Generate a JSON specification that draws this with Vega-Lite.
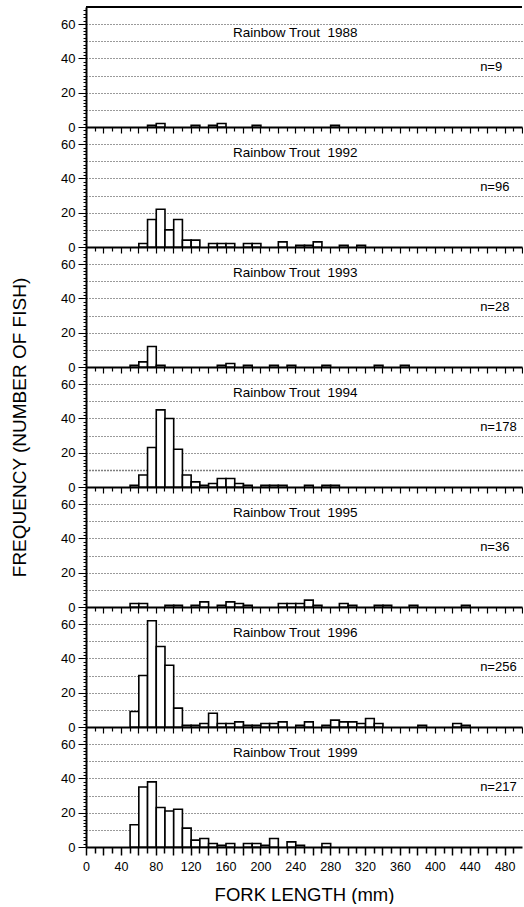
{
  "$schema": "https://vega.github.io/schema/vega-lite/v6.json",
  "padding": {"left": 10, "top": 4, "right": 0, "bottom": 0},
  "bounds": "flush",
  "spacing": 0,
  "config": {
    "font": "Liberation Sans",
    "view": {"stroke": null},
    "axis": {"labelFont": "Liberation Sans", "titleFont": "Liberation Sans", "labelColor": "black", "titleColor": "black", "titleFontWeight": "normal"},
    "text": {"font": "Liberation Sans", "color": "black"}
  },
  "datasets": {
    "panels": [
      {"year": 1988, "title": "Rainbow Trout\u00a0 1988", "n": "n=9"},
      {"year": 1992, "title": "Rainbow Trout\u00a0 1992", "n": "n=96"},
      {"year": 1993, "title": "Rainbow Trout\u00a0 1993", "n": "n=28"},
      {"year": 1994, "title": "Rainbow Trout\u00a0 1994", "n": "n=178"},
      {"year": 1995, "title": "Rainbow Trout\u00a0 1995", "n": "n=36"},
      {"year": 1996, "title": "Rainbow Trout\u00a0 1996", "n": "n=256"},
      {"year": 1999, "title": "Rainbow Trout\u00a0 1999", "n": "n=217"}
    ],
    "fish": [
      {"year": 1988, "lo": 70, "count": 1}, {"year": 1988, "lo": 80, "count": 2}, {"year": 1988, "lo": 120, "count": 1}, {"year": 1988, "lo": 140, "count": 1}, {"year": 1988, "lo": 150, "count": 2}, {"year": 1988, "lo": 190, "count": 1}, {"year": 1988, "lo": 280, "count": 1},
      {"year": 1992, "lo": 60, "count": 2}, {"year": 1992, "lo": 70, "count": 16}, {"year": 1992, "lo": 80, "count": 22}, {"year": 1992, "lo": 90, "count": 10}, {"year": 1992, "lo": 100, "count": 16}, {"year": 1992, "lo": 110, "count": 4}, {"year": 1992, "lo": 120, "count": 4}, {"year": 1992, "lo": 140, "count": 2}, {"year": 1992, "lo": 150, "count": 2}, {"year": 1992, "lo": 160, "count": 2}, {"year": 1992, "lo": 180, "count": 2}, {"year": 1992, "lo": 190, "count": 2}, {"year": 1992, "lo": 220, "count": 3}, {"year": 1992, "lo": 240, "count": 1}, {"year": 1992, "lo": 250, "count": 1}, {"year": 1992, "lo": 260, "count": 3}, {"year": 1992, "lo": 290, "count": 1}, {"year": 1992, "lo": 310, "count": 1},
      {"year": 1993, "lo": 50, "count": 1}, {"year": 1993, "lo": 60, "count": 3}, {"year": 1993, "lo": 70, "count": 12}, {"year": 1993, "lo": 80, "count": 1}, {"year": 1993, "lo": 150, "count": 1}, {"year": 1993, "lo": 160, "count": 2}, {"year": 1993, "lo": 180, "count": 1}, {"year": 1993, "lo": 210, "count": 1}, {"year": 1993, "lo": 230, "count": 1}, {"year": 1993, "lo": 270, "count": 1}, {"year": 1993, "lo": 330, "count": 1}, {"year": 1993, "lo": 360, "count": 1},
      {"year": 1994, "lo": 50, "count": 1}, {"year": 1994, "lo": 60, "count": 7}, {"year": 1994, "lo": 70, "count": 23}, {"year": 1994, "lo": 80, "count": 45}, {"year": 1994, "lo": 90, "count": 40}, {"year": 1994, "lo": 100, "count": 22}, {"year": 1994, "lo": 110, "count": 7}, {"year": 1994, "lo": 120, "count": 3}, {"year": 1994, "lo": 130, "count": 1}, {"year": 1994, "lo": 140, "count": 2}, {"year": 1994, "lo": 150, "count": 5}, {"year": 1994, "lo": 160, "count": 5}, {"year": 1994, "lo": 170, "count": 2}, {"year": 1994, "lo": 180, "count": 1}, {"year": 1994, "lo": 200, "count": 1}, {"year": 1994, "lo": 210, "count": 1}, {"year": 1994, "lo": 220, "count": 1}, {"year": 1994, "lo": 250, "count": 1}, {"year": 1994, "lo": 270, "count": 1}, {"year": 1994, "lo": 280, "count": 1},
      {"year": 1995, "lo": 50, "count": 2}, {"year": 1995, "lo": 60, "count": 2}, {"year": 1995, "lo": 90, "count": 1}, {"year": 1995, "lo": 100, "count": 1}, {"year": 1995, "lo": 120, "count": 1}, {"year": 1995, "lo": 130, "count": 3}, {"year": 1995, "lo": 150, "count": 1}, {"year": 1995, "lo": 160, "count": 3}, {"year": 1995, "lo": 170, "count": 2}, {"year": 1995, "lo": 180, "count": 1}, {"year": 1995, "lo": 220, "count": 2}, {"year": 1995, "lo": 230, "count": 2}, {"year": 1995, "lo": 240, "count": 2}, {"year": 1995, "lo": 250, "count": 4}, {"year": 1995, "lo": 260, "count": 1}, {"year": 1995, "lo": 290, "count": 2}, {"year": 1995, "lo": 300, "count": 1}, {"year": 1995, "lo": 330, "count": 1}, {"year": 1995, "lo": 340, "count": 1}, {"year": 1995, "lo": 370, "count": 1}, {"year": 1995, "lo": 430, "count": 1},
      {"year": 1996, "lo": 50, "count": 9}, {"year": 1996, "lo": 60, "count": 30}, {"year": 1996, "lo": 70, "count": 62}, {"year": 1996, "lo": 80, "count": 47}, {"year": 1996, "lo": 90, "count": 36}, {"year": 1996, "lo": 100, "count": 11}, {"year": 1996, "lo": 110, "count": 1}, {"year": 1996, "lo": 120, "count": 1}, {"year": 1996, "lo": 130, "count": 2}, {"year": 1996, "lo": 140, "count": 8}, {"year": 1996, "lo": 150, "count": 2}, {"year": 1996, "lo": 160, "count": 2}, {"year": 1996, "lo": 170, "count": 3}, {"year": 1996, "lo": 180, "count": 1}, {"year": 1996, "lo": 190, "count": 1}, {"year": 1996, "lo": 200, "count": 2}, {"year": 1996, "lo": 210, "count": 2}, {"year": 1996, "lo": 220, "count": 3}, {"year": 1996, "lo": 240, "count": 1}, {"year": 1996, "lo": 250, "count": 3}, {"year": 1996, "lo": 270, "count": 1}, {"year": 1996, "lo": 280, "count": 4}, {"year": 1996, "lo": 290, "count": 3}, {"year": 1996, "lo": 300, "count": 3}, {"year": 1996, "lo": 310, "count": 2}, {"year": 1996, "lo": 320, "count": 5}, {"year": 1996, "lo": 330, "count": 2}, {"year": 1996, "lo": 380, "count": 1}, {"year": 1996, "lo": 420, "count": 2}, {"year": 1996, "lo": 430, "count": 1},
      {"year": 1999, "lo": 50, "count": 13}, {"year": 1999, "lo": 60, "count": 35}, {"year": 1999, "lo": 70, "count": 38}, {"year": 1999, "lo": 80, "count": 23}, {"year": 1999, "lo": 90, "count": 21}, {"year": 1999, "lo": 100, "count": 22}, {"year": 1999, "lo": 110, "count": 11}, {"year": 1999, "lo": 120, "count": 4}, {"year": 1999, "lo": 130, "count": 5}, {"year": 1999, "lo": 140, "count": 2}, {"year": 1999, "lo": 150, "count": 1}, {"year": 1999, "lo": 160, "count": 2}, {"year": 1999, "lo": 180, "count": 2}, {"year": 1999, "lo": 190, "count": 2}, {"year": 1999, "lo": 200, "count": 1}, {"year": 1999, "lo": 210, "count": 5}, {"year": 1999, "lo": 230, "count": 3}, {"year": 1999, "lo": 240, "count": 1}, {"year": 1999, "lo": 270, "count": 2}
    ]
  },
  "vconcat": [
    {
      "width": 436, "height": 120,
      "layer": [
        {"data": {"name": "fish"}, "transform": [{"filter": "datum.year == 1988"}],
         "mark": {"type": "bar", "fill": "white", "stroke": "black", "strokeWidth": 1.6, "binSpacing": 0},
         "encoding": {
           "x": {"field": "lo", "type": "quantitative", "bin": {"binned": true, "step": 10}, "scale": {"domain": [0, 500], "nice": false},
                 "axis": {"values": [0,10,20,30,40,50,60,70,80,90,100,110,120,130,140,150,160,170,180,190,200,210,220,230,240,250,260,270,280,290,300,310,320,330,340,350,360,370,380,390,400,410,420,430,440,450,460,470,480,490,500], "tickCount": 200, "labels": false, "title": null, "grid": false, "domainColor": "black", "domainWidth": 2, "tickColor": "black", "tickWidth": 1.2, "tickSize": {"condition": {"test": "datum.value % 20 == 0", "value": 6}, "value": 4}}},
           "y": {"field": "count", "type": "quantitative", "scale": {"domain": [0, 70], "nice": false},
                 "axis": {"values": [0,2,4,6,8,10,12,14,16,18,20,22,24,26,28,30,32,34,36,38,40,42,44,46,48,50,52,54,56,58,60,62,64,66,68], "tickCount": 200, "format": "d", "labelExpr": "datum.value % 20 == 0 ? datum.label : ''", "labelOverlap": false, "labelFontSize": 13, "labelPadding": 3, "tickColor": "black", "tickWidth": 1, "tickSize": {"condition": {"test": "datum.value % 20 == 0", "value": 8}, "value": 3}, "domainColor": "black", "domainWidth": 2, "grid": true, "gridColor": "black", "gridDash": [1, 2], "gridWidth": 0.8, "gridOpacity": {"condition": {"test": "datum.value % 10 == 0 && datum.value > 0", "value": 1}, "value": 0}, "title": null}}
         }},
        {"data": {"name": "panels"}, "transform": [{"filter": "datum.year == 1988"}], "mark": {"type": "text", "fontSize": 13.5, "align": "center", "baseline": "middle"}, "encoding": {"x": {"datum": 240}, "y": {"datum": 55}, "text": {"field": "title"}}},
        {"data": {"name": "panels"}, "transform": [{"filter": "datum.year == 1988"}], "mark": {"type": "text", "fontSize": 13, "align": "left", "baseline": "middle"}, "encoding": {"x": {"datum": 452}, "y": {"datum": 35}, "text": {"field": "n"}}},
        {"data": {"values": [{}]}, "mark": {"type": "rule", "strokeWidth": 2, "color": "black"}, "encoding": {"y": {"datum": 70}}}
      ]
    },
    {
      "width": 436, "height": 120,
      "layer": [
        {"data": {"name": "fish"}, "transform": [{"filter": "datum.year == 1992"}],
         "mark": {"type": "bar", "fill": "white", "stroke": "black", "strokeWidth": 1.6, "binSpacing": 0},
         "encoding": {
           "x": {"field": "lo", "type": "quantitative", "bin": {"binned": true, "step": 10}, "scale": {"domain": [0, 500], "nice": false},
                 "axis": {"values": [0,10,20,30,40,50,60,70,80,90,100,110,120,130,140,150,160,170,180,190,200,210,220,230,240,250,260,270,280,290,300,310,320,330,340,350,360,370,380,390,400,410,420,430,440,450,460,470,480,490,500], "tickCount": 200, "labels": false, "title": null, "grid": false, "domainColor": "black", "domainWidth": 2, "tickColor": "black", "tickWidth": 1.2, "tickSize": {"condition": {"test": "datum.value % 20 == 0", "value": 6}, "value": 4}}},
           "y": {"field": "count", "type": "quantitative", "scale": {"domain": [0, 70], "nice": false},
                 "axis": {"values": [0,2,4,6,8,10,12,14,16,18,20,22,24,26,28,30,32,34,36,38,40,42,44,46,48,50,52,54,56,58,60,62,64,66,68], "tickCount": 200, "format": "d", "labelExpr": "datum.value % 20 == 0 ? datum.label : ''", "labelOverlap": false, "labelFontSize": 13, "labelPadding": 3, "tickColor": "black", "tickWidth": 1, "tickSize": {"condition": {"test": "datum.value % 20 == 0", "value": 8}, "value": 3}, "domainColor": "black", "domainWidth": 2, "grid": true, "gridColor": "black", "gridDash": [1, 2], "gridWidth": 0.8, "gridOpacity": {"condition": {"test": "datum.value % 10 == 0 && datum.value > 0", "value": 1}, "value": 0}, "title": null}}
         }},
        {"data": {"name": "panels"}, "transform": [{"filter": "datum.year == 1992"}], "mark": {"type": "text", "fontSize": 13.5, "align": "center", "baseline": "middle"}, "encoding": {"x": {"datum": 240}, "y": {"datum": 55}, "text": {"field": "title"}}},
        {"data": {"name": "panels"}, "transform": [{"filter": "datum.year == 1992"}], "mark": {"type": "text", "fontSize": 13, "align": "left", "baseline": "middle"}, "encoding": {"x": {"datum": 452}, "y": {"datum": 35}, "text": {"field": "n"}}}
      ]
    },
    {
      "width": 436, "height": 120,
      "layer": [
        {"data": {"name": "fish"}, "transform": [{"filter": "datum.year == 1993"}],
         "mark": {"type": "bar", "fill": "white", "stroke": "black", "strokeWidth": 1.6, "binSpacing": 0},
         "encoding": {
           "x": {"field": "lo", "type": "quantitative", "bin": {"binned": true, "step": 10}, "scale": {"domain": [0, 500], "nice": false},
                 "axis": {"values": [0,10,20,30,40,50,60,70,80,90,100,110,120,130,140,150,160,170,180,190,200,210,220,230,240,250,260,270,280,290,300,310,320,330,340,350,360,370,380,390,400,410,420,430,440,450,460,470,480,490,500], "tickCount": 200, "labels": false, "title": null, "grid": false, "domainColor": "black", "domainWidth": 2, "tickColor": "black", "tickWidth": 1.2, "tickSize": {"condition": {"test": "datum.value % 20 == 0", "value": 6}, "value": 4}}},
           "y": {"field": "count", "type": "quantitative", "scale": {"domain": [0, 70], "nice": false},
                 "axis": {"values": [0,2,4,6,8,10,12,14,16,18,20,22,24,26,28,30,32,34,36,38,40,42,44,46,48,50,52,54,56,58,60,62,64,66,68], "tickCount": 200, "format": "d", "labelExpr": "datum.value % 20 == 0 ? datum.label : ''", "labelOverlap": false, "labelFontSize": 13, "labelPadding": 3, "tickColor": "black", "tickWidth": 1, "tickSize": {"condition": {"test": "datum.value % 20 == 0", "value": 8}, "value": 3}, "domainColor": "black", "domainWidth": 2, "grid": true, "gridColor": "black", "gridDash": [1, 2], "gridWidth": 0.8, "gridOpacity": {"condition": {"test": "datum.value % 10 == 0 && datum.value > 0", "value": 1}, "value": 0}, "title": null}}
         }},
        {"data": {"name": "panels"}, "transform": [{"filter": "datum.year == 1993"}], "mark": {"type": "text", "fontSize": 13.5, "align": "center", "baseline": "middle"}, "encoding": {"x": {"datum": 240}, "y": {"datum": 55}, "text": {"field": "title"}}},
        {"data": {"name": "panels"}, "transform": [{"filter": "datum.year == 1993"}], "mark": {"type": "text", "fontSize": 13, "align": "left", "baseline": "middle"}, "encoding": {"x": {"datum": 452}, "y": {"datum": 35}, "text": {"field": "n"}}}
      ]
    },
    {
      "width": 436, "height": 120,
      "layer": [
        {"data": {"name": "fish"}, "transform": [{"filter": "datum.year == 1994"}],
         "mark": {"type": "bar", "fill": "white", "stroke": "black", "strokeWidth": 1.6, "binSpacing": 0},
         "encoding": {
           "x": {"field": "lo", "type": "quantitative", "bin": {"binned": true, "step": 10}, "scale": {"domain": [0, 500], "nice": false},
                 "axis": {"values": [0,10,20,30,40,50,60,70,80,90,100,110,120,130,140,150,160,170,180,190,200,210,220,230,240,250,260,270,280,290,300,310,320,330,340,350,360,370,380,390,400,410,420,430,440,450,460,470,480,490,500], "tickCount": 200, "labels": false, "title": null, "grid": false, "domainColor": "black", "domainWidth": 2, "tickColor": "black", "tickWidth": 1.2, "tickSize": {"condition": {"test": "datum.value % 20 == 0", "value": 6}, "value": 4}}},
           "y": {"field": "count", "type": "quantitative", "scale": {"domain": [0, 70], "nice": false},
                 "axis": {"values": [0,2,4,6,8,10,12,14,16,18,20,22,24,26,28,30,32,34,36,38,40,42,44,46,48,50,52,54,56,58,60,62,64,66,68], "tickCount": 200, "format": "d", "labelExpr": "datum.value % 20 == 0 ? datum.label : ''", "labelOverlap": false, "labelFontSize": 13, "labelPadding": 3, "tickColor": "black", "tickWidth": 1, "tickSize": {"condition": {"test": "datum.value % 20 == 0", "value": 8}, "value": 3}, "domainColor": "black", "domainWidth": 2, "grid": true, "gridColor": "black", "gridDash": [1, 2], "gridWidth": {"condition": {"test": "datum.value == 10", "value": 1.6}, "value": 0.8}, "gridOpacity": {"condition": {"test": "datum.value % 10 == 0 && datum.value > 0", "value": 1}, "value": 0}, "title": "FREQUENCY (NUMBER OF FISH)", "titleFontSize": 19, "titlePadding": 31}}
         }},
        {"data": {"name": "panels"}, "transform": [{"filter": "datum.year == 1994"}], "mark": {"type": "text", "fontSize": 13.5, "align": "center", "baseline": "middle"}, "encoding": {"x": {"datum": 240}, "y": {"datum": 55}, "text": {"field": "title"}}},
        {"data": {"name": "panels"}, "transform": [{"filter": "datum.year == 1994"}], "mark": {"type": "text", "fontSize": 13, "align": "left", "baseline": "middle"}, "encoding": {"x": {"datum": 452}, "y": {"datum": 35}, "text": {"field": "n"}}}
      ]
    },
    {
      "width": 436, "height": 120,
      "layer": [
        {"data": {"name": "fish"}, "transform": [{"filter": "datum.year == 1995"}],
         "mark": {"type": "bar", "fill": "white", "stroke": "black", "strokeWidth": 1.6, "binSpacing": 0},
         "encoding": {
           "x": {"field": "lo", "type": "quantitative", "bin": {"binned": true, "step": 10}, "scale": {"domain": [0, 500], "nice": false},
                 "axis": {"values": [0,10,20,30,40,50,60,70,80,90,100,110,120,130,140,150,160,170,180,190,200,210,220,230,240,250,260,270,280,290,300,310,320,330,340,350,360,370,380,390,400,410,420,430,440,450,460,470,480,490,500], "tickCount": 200, "labels": false, "title": null, "grid": false, "domainColor": "black", "domainWidth": 2, "tickColor": "black", "tickWidth": 1.2, "tickSize": {"condition": {"test": "datum.value % 20 == 0", "value": 6}, "value": 4}}},
           "y": {"field": "count", "type": "quantitative", "scale": {"domain": [0, 70], "nice": false},
                 "axis": {"values": [0,2,4,6,8,10,12,14,16,18,20,22,24,26,28,30,32,34,36,38,40,42,44,46,48,50,52,54,56,58,60,62,64,66,68], "tickCount": 200, "format": "d", "labelExpr": "datum.value % 20 == 0 ? datum.label : ''", "labelOverlap": false, "labelFontSize": 13, "labelPadding": 3, "tickColor": "black", "tickWidth": 1, "tickSize": {"condition": {"test": "datum.value % 20 == 0", "value": 8}, "value": 3}, "domainColor": "black", "domainWidth": 2, "grid": true, "gridColor": "black", "gridDash": [1, 2], "gridWidth": 0.8, "gridOpacity": {"condition": {"test": "datum.value % 10 == 0 && datum.value > 0", "value": 1}, "value": 0}, "title": null}}
         }},
        {"data": {"name": "panels"}, "transform": [{"filter": "datum.year == 1995"}], "mark": {"type": "text", "fontSize": 13.5, "align": "center", "baseline": "middle"}, "encoding": {"x": {"datum": 240}, "y": {"datum": 55}, "text": {"field": "title"}}},
        {"data": {"name": "panels"}, "transform": [{"filter": "datum.year == 1995"}], "mark": {"type": "text", "fontSize": 13, "align": "left", "baseline": "middle"}, "encoding": {"x": {"datum": 452}, "y": {"datum": 35}, "text": {"field": "n"}}}
      ]
    },
    {
      "width": 436, "height": 120,
      "layer": [
        {"data": {"name": "fish"}, "transform": [{"filter": "datum.year == 1996"}],
         "mark": {"type": "bar", "fill": "white", "stroke": "black", "strokeWidth": 1.6, "binSpacing": 0},
         "encoding": {
           "x": {"field": "lo", "type": "quantitative", "bin": {"binned": true, "step": 10}, "scale": {"domain": [0, 500], "nice": false},
                 "axis": {"values": [0,10,20,30,40,50,60,70,80,90,100,110,120,130,140,150,160,170,180,190,200,210,220,230,240,250,260,270,280,290,300,310,320,330,340,350,360,370,380,390,400,410,420,430,440,450,460,470,480,490,500], "tickCount": 200, "labels": false, "title": null, "grid": false, "domainColor": "black", "domainWidth": 2, "tickColor": "black", "tickWidth": 1.2, "tickSize": {"condition": {"test": "datum.value % 20 == 0", "value": 6}, "value": 4}}},
           "y": {"field": "count", "type": "quantitative", "scale": {"domain": [0, 70], "nice": false},
                 "axis": {"values": [0,2,4,6,8,10,12,14,16,18,20,22,24,26,28,30,32,34,36,38,40,42,44,46,48,50,52,54,56,58,60,62,64,66,68], "tickCount": 200, "format": "d", "labelExpr": "datum.value % 20 == 0 ? datum.label : ''", "labelOverlap": false, "labelFontSize": 13, "labelPadding": 3, "tickColor": "black", "tickWidth": 1, "tickSize": {"condition": {"test": "datum.value % 20 == 0", "value": 8}, "value": 3}, "domainColor": "black", "domainWidth": 2, "grid": true, "gridColor": "black", "gridDash": [1, 2], "gridWidth": 0.8, "gridOpacity": {"condition": {"test": "datum.value % 10 == 0 && datum.value > 0", "value": 1}, "value": 0}, "title": null}}
         }},
        {"data": {"name": "panels"}, "transform": [{"filter": "datum.year == 1996"}], "mark": {"type": "text", "fontSize": 13.5, "align": "center", "baseline": "middle"}, "encoding": {"x": {"datum": 240}, "y": {"datum": 55}, "text": {"field": "title"}}},
        {"data": {"name": "panels"}, "transform": [{"filter": "datum.year == 1996"}], "mark": {"type": "text", "fontSize": 13, "align": "left", "baseline": "middle"}, "encoding": {"x": {"datum": 452}, "y": {"datum": 35}, "text": {"field": "n"}}}
      ]
    },
    {
      "width": 436, "height": 120,
      "layer": [
        {"data": {"name": "fish"}, "transform": [{"filter": "datum.year == 1999"}],
         "mark": {"type": "bar", "fill": "white", "stroke": "black", "strokeWidth": 1.6, "binSpacing": 0},
         "encoding": {
           "x": {"field": "lo", "type": "quantitative", "bin": {"binned": true, "step": 10}, "scale": {"domain": [0, 500], "nice": false},
                 "axis": {"values": [0,10,20,30,40,50,60,70,80,90,100,110,120,130,140,150,160,170,180,190,200,210,220,230,240,250,260,270,280,290,300,310,320,330,340,350,360,370,380,390,400,410,420,430,440,450,460,470,480,490], "tickCount": 200, "format": "d", "labelExpr": "datum.value % 40 == 0 ? datum.label : ''", "labelOverlap": false, "labelFlush": false, "labelFontSize": 12.5, "labelPadding": 5, "title": "FORK LENGTH (mm)", "titleFontSize": 18.5, "titlePadding": 13, "grid": false, "domainColor": "black", "domainWidth": 2, "tickColor": "black", "tickWidth": 1.5, "tickSize": {"condition": {"test": "datum.value % 20 == 0", "value": 8}, "value": 6}}},
           "y": {"field": "count", "type": "quantitative", "scale": {"domain": [0, 70], "nice": false},
                 "axis": {"values": [0,2,4,6,8,10,12,14,16,18,20,22,24,26,28,30,32,34,36,38,40,42,44,46,48,50,52,54,56,58,60,62,64,66,68], "tickCount": 200, "format": "d", "labelExpr": "datum.value % 20 == 0 ? datum.label : ''", "labelOverlap": false, "labelFontSize": 13, "labelPadding": 3, "tickColor": "black", "tickWidth": 1, "tickSize": {"condition": {"test": "datum.value % 20 == 0", "value": 8}, "value": 3}, "domainColor": "black", "domainWidth": 2, "grid": true, "gridColor": "black", "gridDash": [1, 2], "gridWidth": 0.8, "gridOpacity": {"condition": {"test": "datum.value % 10 == 0 && datum.value > 0", "value": 1}, "value": 0}, "title": null}}
         }},
        {"data": {"name": "panels"}, "transform": [{"filter": "datum.year == 1999"}], "mark": {"type": "text", "fontSize": 13.5, "align": "center", "baseline": "middle"}, "encoding": {"x": {"datum": 240}, "y": {"datum": 55}, "text": {"field": "title"}}},
        {"data": {"name": "panels"}, "transform": [{"filter": "datum.year == 1999"}], "mark": {"type": "text", "fontSize": 13, "align": "left", "baseline": "middle"}, "encoding": {"x": {"datum": 452}, "y": {"datum": 35}, "text": {"field": "n"}}}
      ]
    }
  ]
}
